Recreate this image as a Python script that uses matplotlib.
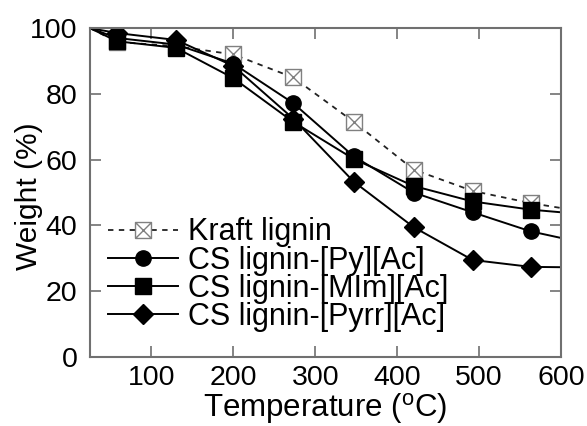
import numpy as np
import matplotlib
matplotlib.use("Agg")
import matplotlib.pyplot as plt
from matplotlib.path import Path

plt.rcParams['font.family'] = ['Liberation Sans', 'DejaVu Sans']
plt.rcParams['mathtext.fontset'] = 'custom'
plt.rcParams['mathtext.rm'] = 'Liberation Sans'

# curve temperatures (deg C), first and last point are the curve ends, the rest carry markers
temp = [25, 58, 130, 200, 273, 347, 420, 492, 563, 600]
kraft = [100, 95.8, 94.5, 92.0, 85.0, 71.5, 57.0, 50.5, 46.8, 45.3]
py = [100, 97.0, 95.0, 89.2, 77.2, 61.0, 50.0, 44.0, 38.2, 36.2]
mim = [100, 96.0, 94.0, 84.8, 71.5, 60.2, 52.0, 47.3, 44.8, 44.0]
pyrr = [100, 98.5, 96.4, 88.5, 72.5, 53.3, 39.5, 29.5, 27.4, 27.3]
labels = ['Kraft lignin', 'CS lignin-[Py][Ac]', 'CS lignin-[MIm][Ac]', 'CS lignin-[Pyrr][Ac]']

# square with a cross inside
box_x = Path([(-1, -1), (1, -1), (1, 1), (-1, 1), (-1, -1), (-1, -1), (1, 1), (-1, 1), (1, -1)],
             [Path.MOVETO, Path.LINETO, Path.LINETO, Path.LINETO, Path.LINETO,
              Path.MOVETO, Path.LINETO, Path.MOVETO, Path.LINETO])

fig = plt.figure(figsize=(5.87, 4.26), dpi=100)
ax = fig.add_axes([0.1533, 0.162, 0.8024, 0.772])

marks = list(range(1, 9))
ax.plot(temp, kraft, color='#222222', lw=1.3, ls=(0, (3, 3)), marker=box_x, ms=11.5,
        mfc='white', mec='#808080', mew=1.0, markevery=marks, label=labels[0])
ax.plot(temp, py, color='black', lw=1.4, marker='o', ms=11, markevery=marks, label=labels[1])
ax.plot(temp, mim, color='black', lw=1.4, marker='s', ms=11.5, markevery=marks, label=labels[2])
ax.plot(temp, pyrr, color='black', lw=1.4, marker='D', ms=10, markevery=marks, label=labels[3])

ax.set_xlim(25, 600)
ax.set_ylim(0, 100)
ax.set_xticks([100, 200, 300, 400, 500, 600])
ax.set_yticks([0, 20, 40, 60, 80, 100])

for s in ax.spines.values():
    s.set_color('#707070')
    s.set_linewidth(1.5)
ax.tick_params(direction='in', length=8, width=1.2, color='#707070', labelsize=20.5,
               top=True, right=True)
ax.tick_params(axis='x', pad=6)
ax.tick_params(axis='y', pad=9)

ax.set_xlabel('Temperature ($^{\\rm o}$C)', fontsize=22.5, labelpad=0)
ax.set_ylabel('Weight (%)', fontsize=21.5)
ax.yaxis.set_label_coords(-0.10, 0.49)

ax.legend(loc='lower left', bbox_to_anchor=(0.038, 0.076), frameon=False, fontsize=22,
          handlelength=2.3, handletextpad=0.33, labelspacing=-0.06, borderpad=0, borderaxespad=0)

plt.savefig('out.png', dpi=100)
